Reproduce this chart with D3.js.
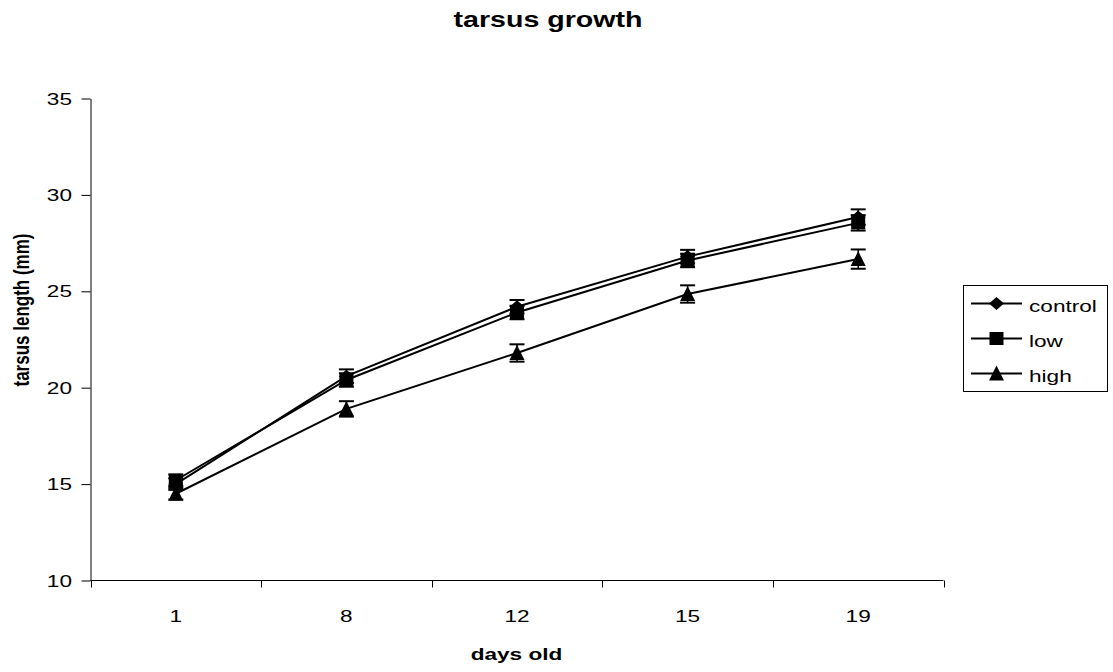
<!DOCTYPE html>
<html><head><meta charset="utf-8">
<script src="https://cdn.jsdelivr.net/npm/d3@7"></script>
<style>body{margin:0;background:#fff}svg{display:block;font-family:"Liberation Sans",Arial,sans-serif}</style>
</head><body>
<svg id="c" width="1113" height="672"></svg>
<script>
const categories = ["1","8","12","15","19"];
const seriesNames = ["control","low","high"];
const controlValues = [15.0, 20.6, 24.2, 26.8, 28.85];
const lowValues = [15.2, 20.4, 23.9, 26.6, 28.55];
const highValues = [14.5, 18.9, 21.8, 24.86, 26.67];
const controlErr = [0.3, 0.35, 0.35, 0.35, 0.4];
const lowErr = [0.3, 0.35, 0.35, 0.35, 0.4];
const highErr = [0.3, 0.4, 0.45, 0.45, 0.5];
const yTicks = [10, 15, 20, 25, 30, 35];
const titleText = "tarsus growth";
const xTitle = "days old";
const yTitle = "tarsus length (mm)";

const SX = 1.33; // horizontal stretch of the reference's text
const svg = d3.select("#c");
const L = 90.5, R = 943.5, T = 98.5, B = 580.5;
const x = d3.scaleBand().domain(categories).range([L, R]);
const y = d3.scaleLinear().domain([10, 35]).range([B, T]);

function stretchText(sel, px, py, size, bold, anchor, txt) {
  return sel.append("text")
    .attr("transform", `translate(${px},${py}) scale(${SX},1)`)
    .attr("text-anchor", anchor).attr("font-size", size)
    .attr("font-weight", bold ? "bold" : "normal").attr("fill", "#000").text(txt);
}

stretchText(svg, 548, 27, 21.5, true, "middle", titleText);

// y axis
const ya = svg.append("g").attr("transform", `translate(${L},0)`)
  .call(d3.axisLeft(y).tickValues(yTicks).tickSize(9).tickSizeOuter(0));
ya.select(".domain").attr("stroke", "#000");
ya.selectAll(".tick line").attr("stroke", "#000");
ya.selectAll(".tick text").remove();
yTicks.forEach(t => stretchText(svg, 72, y(t) + 6, 17, false, "end", String(t)));

// x axis
const xa = svg.append("g").attr("transform", `translate(0,${B})`)
  .call(d3.axisBottom(x).tickSize(0));
xa.select(".domain").attr("d", `M${L},0H${R}`).attr("stroke", "#000");
xa.selectAll(".tick text").remove();
const bounds = categories.map(c => x(c)).concat([x(categories[categories.length-1]) + x.bandwidth()]);
xa.selectAll(".bt").data(bounds).enter().append("line").attr("class","bt")
  .attr("x1", d => Math.round(d)+0.5).attr("x2", d => Math.round(d)+0.5).attr("y1", 0).attr("y2", 7).attr("stroke", "#000");
const cx = c => x(c) + x.bandwidth()/2;
categories.forEach(c => stretchText(svg, cx(c), 622, 17, false, "middle", c));

stretchText(svg, 516.5, 660, 17, true, "middle", xTitle);
svg.append("text").attr("transform", `translate(29,310) scale(${SX},1) rotate(-90)`).attr("text-anchor", "middle")
  .attr("font-weight", "bold").attr("font-size", 17).text(yTitle);

const series = [
  {name: seriesNames[0], vals: controlValues, err: controlErr, shape: "diamond"},
  {name: seriesNames[1], vals: lowValues, err: lowErr, shape: "square"},
  {name: seriesNames[2], vals: highValues, err: highErr, shape: "triangle"}
];
function marker(g, shape, px, py) {
  if (shape === "diamond") g.append("path").attr("d", `M${px},${py-6.5}L${px+7.5},${py}L${px},${py+6.5}L${px-7.5},${py}Z`).attr("fill", "#000");
  else if (shape === "square") g.append("rect").attr("x", px-7).attr("y", py-6.5).attr("width", 14).attr("height", 13).attr("fill", "#000");
  else g.append("path").attr("d", `M${px},${py-8}L${px+7.5},${py+7}L${px-7.5},${py+7}Z`).attr("fill", "#000");
}
const line = d3.line().x(d => cx(d.c)).y(d => y(d.v));
series.forEach(s => {
  const pts = categories.map((c, i) => ({c, v: s.vals[i], e: s.err[i]}));
  const g = svg.append("g");
  g.append("path").attr("d", line(pts)).attr("fill", "none").attr("stroke", "#000").attr("stroke-width", 2);
  pts.forEach(p => {
    const px = cx(p.c);
    g.append("line").attr("x1", px).attr("x2", px).attr("y1", y(p.v - p.e)).attr("y2", y(p.v + p.e)).attr("stroke", "#000").attr("stroke-width", 1.5);
    [p.v - p.e, p.v + p.e].forEach(v => g.append("line").attr("x1", px-7.5).attr("x2", px+7.5).attr("y1", y(v)).attr("y2", y(v)).attr("stroke", "#000").attr("stroke-width", 2));
  });
  pts.forEach(p => marker(g, s.shape, cx(p.c), y(p.v)));
});

// legend
const lg = svg.append("g");
lg.append("rect").attr("x", 963.5).attr("y", 285.5).attr("width", 144).attr("height", 106).attr("fill", "#fff").attr("stroke", "#000");
series.forEach((s, i) => {
  const ly = 303.5 + i*35;
  lg.append("line").attr("x1", 971).attr("x2", 1022).attr("y1", ly).attr("y2", ly).attr("stroke", "#000").attr("stroke-width", 2);
  marker(lg, s.shape, 996.5, ly);
  stretchText(lg, 1029, ly + 8, 17, false, "start", s.name);
});
</script>
</body></html>
